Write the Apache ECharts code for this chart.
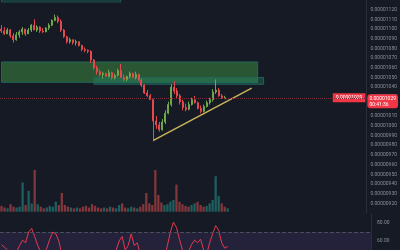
<!DOCTYPE html>
<html>
<head>
<meta charset="utf-8">
<script src="https://cdn.jsdelivr.net/npm/echarts@6/dist/echarts.min.js"></script>
<style>
  html,body{margin:0;padding:0;background:#161a25;}
  #chart{width:400px;height:250px;}
</style>
</head>
<body>
<div id="chart"></div>
<script>
// price in 1e-8 units: [open, close, low, high]
var candles = [
  [1100,1098,1096,1104],[1098,1095,1094,1102],[1095,1099,1095,1101],[1099,1093,1091,1100],
  [1093,1089,1086,1096],[1089,1094,1088,1097],[1094,1097,1091,1099],[1097,1100,1094,1102],
  [1100,1095,1093,1100],[1095,1099,1095,1101],[1099,1104,1097,1105],[1104,1099,1099,1110],
  [1099,1102,1097,1104],[1102,1098,1096,1103],[1098,1097,1096,1101],[1097,1101,1097,1102],
  [1101,1104,1099,1106],[1104,1109,1103,1110],[1109,1112,1108,1115],[1112,1108,1106,1114],
  [1108,1099,1097,1110],[1099,1092,1091,1100],[1092,1087,1085,1093],[1087,1089,1085,1091],
  [1089,1086,1084,1089],[1086,1087,1083,1089],[1087,1083,1082,1087],[1083,1079,1077,1084],
  [1079,1078,1076,1081],[1078,1077,1075,1079],[1077,1068,1065,1078],[1068,1060,1058,1069],
  [1060,1056,1053,1062],[1056,1053,1051,1058],[1053,1054,1049,1056],[1054,1051,1051,1055],
  [1051,1055,1050,1058],[1055,1050,1048,1056],[1050,1052,1048,1054],[1052,1057,1051,1059],
  [1057,1050,1050,1064],[1050,1048,1046,1053],[1048,1051,1046,1052],[1051,1054,1049,1056],
  [1054,1050,1049,1055],[1050,1053,1048,1056],[1053,1047,1047,1054],[1047,1042,1040,1049],
  [1042,1034,1033,1043],[1034,1031,1030,1037],[1031,1027,1027,1033],[1027,1005,984,1028],
  [1005,1001,997,1010],[1001,996,994,1004],[996,1004,995,1007],[1004,1013,1002,1016],
  [1013,1022,1012,1025],[1022,1040,1020,1043],[1040,1036,1033,1046],[1036,1031,1028,1039],
  [1031,1025,1022,1033],[1025,1019,1016,1027],[1019,1017,1015,1023],[1017,1022,1016,1025],
  [1022,1027,1021,1029],[1027,1024,1023,1031],[1024,1018,1017,1025],[1018,1015,1013,1021],
  [1015,1020,1014,1022],[1020,1024,1019,1026],[1024,1027,1022,1029],[1027,1035,1025,1038],
  [1035,1037,1033,1048],[1037,1031,1030,1039],[1031,1029,1028,1033],[1028,1029,1028,1031]
];

var volumes = [
  14,10,8,18,12,10,12,70,16,50,20,100,18,12,8,10,14,12,24,16,
  45,16,12,10,8,10,8,12,14,10,18,14,10,8,10,8,12,10,8,16,
  20,10,8,12,10,8,12,18,45,20,16,100,40,22,16,18,24,28,65,24,
  18,14,12,16,20,24,16,12,14,20,28,85,38,20,12,8
];

var rsi = [
  56,53,50,45,40,48,55,61,58,70,74,65,55,48,45,52,62,70,68,60,
  45,38,33,40,35,42,36,33,38,40,30,25,28,32,40,38,48,42,50,60,
  65,50,55,68,55,58,45,38,30,32,30,20,22,25,40,55,70,81,75,62,
  50,45,48,56,61,58,62,50,45,58,68,77,72,58,52,54
];

var lastPrice = 1029;
var lastTime = '00:41:36';

// zones and trend line, [categoryIndex, price]
var zoneMain = [[0,1066],[86,1045]];
var zoneLedge = [[31,1050],[88,1043]];
var zoneTop = [[0,1150],[40,1128]];
var trendLine = [[51,985],[84,1039]];

// 123 slots, data fills the first part, the rest is future space
var slots = [];
for (var i = 0; i < 123; i++) { slots.push(i); }

var upColor = '#6ea84a';
var downColor = '#e5484d';

function fmtPrice(v) {
  return (v / 1e8).toFixed(8);
}

var chart = echarts.init(document.getElementById('chart'));

chart.setOption({
  backgroundColor: '#161a25',
  animation: false,
  grid: [
    { left: 0, right: 29, top: 0, height: 213 },
    { left: 0, right: 29, top: 170, height: 41.7 },
    { left: 0, right: 29, top: 214, bottom: 0 }
  ],
  xAxis: [
    { type: 'category', data: slots, gridIndex: 0, show: false },
    { type: 'category', data: slots, gridIndex: 1, show: false },
    { type: 'category', data: slots, gridIndex: 2, show: false }
  ],
  yAxis: [
    {
      gridIndex: 0, position: 'right', min: 910, max: 1130, interval: 10,
      axisLine: { show: true, lineStyle: { color: '#2a2e39' } },
      axisTick: { show: false },
      splitLine: { show: false },
      axisLabel: {
        color: '#8a8e99', fontSize: 5, fontFamily: 'Roboto', margin: 4,
        showMinLabel: false, showMaxLabel: false,
        formatter: fmtPrice
      },
      // last price tag on the axis
      axisPointer: {
        show: true, type: 'line', value: lastPrice, status: 'show', triggerTooltip: false,
        lineStyle: { color: '#7a2b36', width: 1, type: 'dotted' },
        label: {
          show: true, margin: 1,
          formatter: function () { return fmtPrice(lastPrice) + '\n' + lastTime; },
          backgroundColor: '#f23645', color: '#fff', fontSize: 5,
          fontFamily: 'Roboto', padding: [1, 2], lineHeight: 6
        }
      }
    },
    { gridIndex: 1, show: false, min: 0, max: 100 },
    {
      gridIndex: 2, position: 'right', min: 50, max: 90, interval: 10,
      axisLine: { show: true, lineStyle: { color: '#2a2e39' } },
      axisTick: { show: false },
      splitLine: { show: false },
      axisLabel: {
        color: '#8a8e99', fontSize: 5, fontFamily: 'Roboto', margin: 6,
        formatter: function (v) { return v % 20 === 0 ? v.toFixed(2) : ''; }
      }
    }
  ],
  series: [
    {
      type: 'candlestick',
      xAxisIndex: 0, yAxisIndex: 0,
      data: candles.map(function (c) { return [c[0], c[1], c[2], c[3]]; }),
      barMaxWidth: 2,
      itemStyle: {
        color: upColor, color0: downColor,
        borderColor: upColor, borderColor0: downColor, borderWidth: 1
      },
      markArea: {
        silent: true,
        data: [
          [
            { coord: zoneTop[0], itemStyle: { color: 'rgba(0,0,0,0)', borderColor: '#1f5c52', borderWidth: 1 } },
            { coord: zoneTop[1] }
          ],
          [
            { coord: zoneMain[0], itemStyle: { color: 'rgba(67,160,71,0.45)', borderColor: '#22665a', borderWidth: 1 } },
            { coord: zoneMain[1] }
          ],
          [
            { coord: zoneLedge[0], itemStyle: { color: 'rgba(38,140,110,0.35)', borderColor: '#22665a', borderWidth: 1 } },
            { coord: zoneLedge[1] }
          ]
        ]
      },
      markLine: {
        silent: true,
        symbol: 'none',
        data: [
          [
            { coord: trendLine[0], lineStyle: { color: '#c9b458', width: 1.5, type: 'solid' }, label: { show: false } },
            { coord: trendLine[1] }
          ],
          {
            yAxis: lastPrice,
            lineStyle: { color: '#7a2b36', width: 1, type: 'dotted' },
            label: {
              position: 'insideEnd', distance: 1,
              formatter: fmtPrice(lastPrice),
              backgroundColor: '#f23645', color: '#fff', fontSize: 5,
              fontFamily: 'Roboto', padding: [2, 3]
            }
          }
        ]
      }
    },
    {
      type: 'bar',
      xAxisIndex: 1, yAxisIndex: 1,
      data: volumes,
      barWidth: '75%',
      itemStyle: {
        color: function (p) {
          var c = candles[p.dataIndex];
          return c[1] >= c[0] ? 'rgba(38,166,154,0.5)' : 'rgba(239,83,80,0.5)';
        }
      }
    },
    {
      type: 'line',
      xAxisIndex: 2, yAxisIndex: 2,
      data: rsi,
      symbol: 'none',
      lineStyle: { color: '#e53950', width: 1 },
      markArea: {
        silent: true,
        itemStyle: { color: 'rgba(126,87,194,0.14)' },
        data: [[{ yAxis: 30 }, { yAxis: 70 }]]
      },
      markLine: {
        silent: true,
        symbol: 'none',
        label: { show: false },
        lineStyle: { color: '#4a4e5a', type: 'dashed', width: 1 },
        data: [{ yAxis: 70 }]
      }
    }
  ]
});
</script>
</body>
</html>
